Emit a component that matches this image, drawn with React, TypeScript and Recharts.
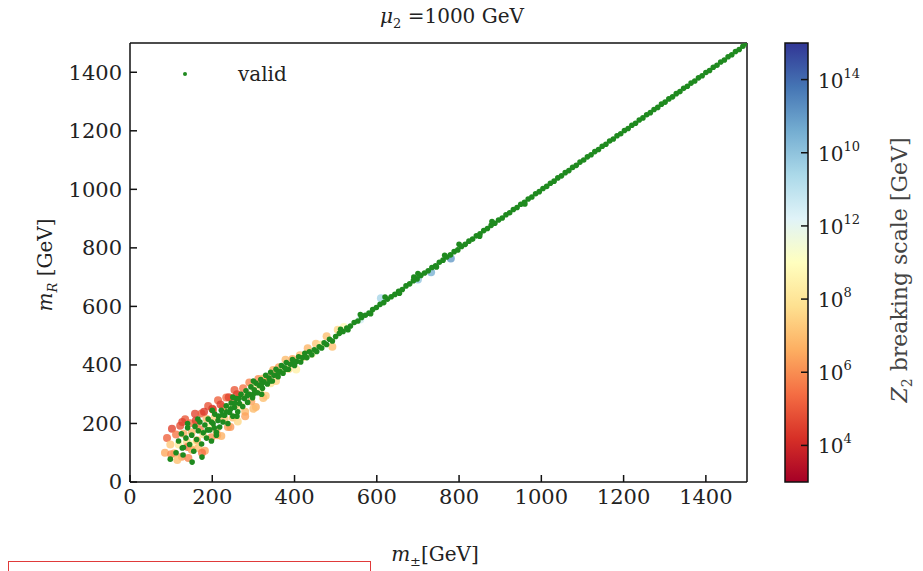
import {
  ScatterChart,
  Scatter,
  XAxis,
  YAxis,
  BarChart,
  Bar,
} from "recharts";

// valid points (m±, mR) in GeV
const validPoints: [number, number][] = [
  // low-mass cluster
  [98, 78], [151, 68], [175, 85], [127, 116], [129, 92],
  [112, 100], [118, 140], [125, 165], [130, 118], [136, 150], [140, 185], [145, 128], [150, 160],
  [155, 105], [158, 190], [162, 145], [166, 175], [170, 205], [174, 130], [178, 168], [182, 195],
  [186, 150], [190, 215], [194, 178], [198, 140], [202, 200], [206, 232], [210, 170], [214, 210],
  [218, 188], [222, 245], [226, 205], [230, 228], [234, 260], [238, 200], [242, 238], [246, 270],
  [250, 225], [254, 255], [258, 285], [262, 240], [266, 268], [270, 300], [274, 258], [278, 285],
  [282, 312], [286, 272], [290, 300], [294, 325], [298, 288], [302, 315], [306, 338], [310, 305],
  [314, 330], [318, 350], [322, 320], [326, 342], [330, 365], [334, 335], [338, 355], [342, 375],
  [346, 345], [350, 365], [355, 385], [360, 360], [364, 378], [368, 398], [372, 372], [376, 390],
  [380, 408], [385, 385], [390, 402], [395, 418], [400, 398], [405, 412], [410, 428], [415, 410],
  [420, 425], [425, 440], [430, 425], [436, 445], [442, 435], [448, 452], [454, 446], [460, 462],
  [466, 458], [472, 476], [478, 470], [485, 488], [492, 482],
  [205, 185], [215, 225], [235, 240], [255, 270], [245, 250], [265, 285], [285, 295], [300, 300],
  [320, 335], [340, 345], [360, 372], [380, 385], [400, 410], [198, 205], [188, 178], [225, 230],
  [140, 200], [165, 215], [200, 245], [250, 290], [300, 345], [210, 160], [260, 225], [320, 300],
  // upper line
  [500, 497], [509, 508], [518, 514], [527, 526], [536, 533], [545, 545], [554, 550], [563, 562],
  [572, 570], [581, 577], [590, 589], [599, 596], [608, 607], [617, 613], [626, 625], [635, 633],
  [644, 641], [653, 652], [662, 658], [671, 670], [680, 677], [689, 688], [698, 694], [707, 706],
  [716, 714], [725, 722], [734, 733], [743, 739], [752, 751], [761, 758], [770, 769], [779, 776],
  [788, 787], [797, 793], [806, 805], [815, 812], [824, 823], [833, 830], [842, 841], [851, 848],
  [860, 859], [869, 866], [878, 877], [887, 884], [896, 895], [905, 902], [914, 913], [923, 920],
  [932, 931], [941, 938], [950, 949], [959, 956], [968, 967], [977, 974], [986, 985], [995, 992],
  [1004, 1003], [1013, 1010], [1022, 1021], [1031, 1028], [1040, 1039], [1049, 1046], [1058, 1057],
  [1067, 1064], [1076, 1075], [1085, 1082], [1094, 1093], [1103, 1100], [1112, 1111], [1121, 1118],
  [1130, 1129], [1139, 1136], [1148, 1147], [1157, 1154], [1166, 1165], [1175, 1172], [1184, 1183],
  [1193, 1190], [1202, 1201], [1211, 1208], [1220, 1219], [1229, 1226], [1238, 1237], [1247, 1244],
  [1256, 1255], [1265, 1262], [1274, 1273], [1283, 1280], [1292, 1291], [1301, 1298], [1310, 1309],
  [1319, 1316], [1328, 1327], [1337, 1334], [1346, 1345], [1355, 1352], [1364, 1363], [1373, 1370],
  [1382, 1381], [1391, 1388], [1400, 1399], [1409, 1406], [1418, 1417], [1427, 1424], [1436, 1435],
  [1445, 1442], [1454, 1453], [1463, 1460], [1472, 1471], [1481, 1478], [1490, 1489], [1499, 1498],
  [512, 522], [530, 520], [560, 572], [585, 575], [620, 632], [655, 645], [690, 700], [700, 712],
  [745, 735], [765, 775], [800, 812], [850, 840], [880, 890], [960, 950],
];

// colored points (m±, mR, log10 of Z2 breaking scale)
const scalePoints: [number, number, number][] = [
  [85, 100, 6.5], [90, 150, 5.2], [98, 128, 7.2], [102, 182, 4.6], [108, 98, 6.8], [112, 162, 5.6],
  [118, 128, 8.2], [122, 192, 4.8], [126, 86, 6.2], [130, 165, 6.6], [134, 214, 5], [138, 138, 7.6],
  [142, 82, 5.8], [146, 201, 5.4], [150, 170, 6.8], [154, 129, 8.6], [158, 233, 4.7], [162, 202, 6.2],
  [166, 116, 7], [170, 180, 5.8], [174, 234, 5.1], [178, 163, 7.8], [182, 107, 6.4], [186, 216, 6.9],
  [190, 260, 4.9], [194, 189, 8.4], [198, 153, 6], [202, 247, 5.5], [206, 221, 7.4], [210, 175, 6.6],
  [214, 279, 5.2], [218, 218, 8], [222, 157, 6.7], [226, 256, 6.1], [230, 215, 7.2], [234, 289, 5.4],
  [238, 188, 6.3], [242, 257, 8.6], [246, 286, 5.8], [250, 220, 7], [254, 314, 5], [258, 263, 6.5],
  [262, 207, 7.6], [266, 296, 6.2], [270, 260, 8.2], [275, 320, 5.6], [280, 240, 6.8], [285, 300, 7.4],
  [290, 340, 5.8], [295, 275, 6.4], [300, 325, 7.8], [306, 256, 6.6], [312, 352, 6], [318, 318, 8.4],
  [324, 354, 6.8], [330, 295, 7.2], [336, 356, 6.2], [342, 337, 8], [348, 383, 6.6], [355, 345, 7.5],
  [362, 392, 6.4], [370, 380, 8.2], [378, 418, 6.9], [386, 386, 7.6], [395, 420, 6.5], [404, 384, 8.4],
  [413, 433, 7], [422, 427, 7.8], [432, 457, 6.8], [442, 437, 8.6], [452, 472, 7.2], [465, 470, 8],
  [478, 498, 7], [492, 462, 7], [505, 520, 7.6], [520, 530, 8.8],
  [100, 95, 6], [115, 75, 7], [140, 120, 5.5], [160, 210, 4.5], [180, 240, 4.4], [200, 250, 4.3],
  [220, 265, 4.5], [240, 290, 4.6], [260, 300, 4.5], [150, 110, 6.5], [175, 100, 5.5], [163, 143, 6.8],
  [212, 160, 6.5], [244, 188, 6.2], [324, 287, 7], [127, 205, 4.6], [280, 225, 6.4], [300, 250, 6.9],
  [560, 555, 10.5], [610, 628, 11.5], [700, 692, 12], [732, 717, 12.5], [780, 764, 13],
];

const xTicks = [0, 200, 400, 600, 800, 1000, 1200, 1400];
const yTicks = [0, 200, 400, 600, 800, 1000, 1200, 1400];

// colorbar: tick positions (log10) and the exponents printed next to them
const cbTicks = [4, 6, 8, 10, 12, 14];
const cbTickLabels = ["4", "6", "8", "12", "10", "14"];
const cbRange = [{ name: "cb", range: [3, 15] }];
const rdylbu = [
  "#a50026", "#d73027", "#f46d43", "#fdae61", "#fee090", "#ffffbf",
  "#e0f3f8", "#abd9e9", "#74add1", "#4575b4", "#313695",
];

const FONT = "'DejaVu Serif', serif";
const INK = "#222";
const GREEN = "#1f8a1f";

function hexToRgb(h: string) {
  return [1, 3, 5].map((i) => parseInt(h.slice(i, i + 2), 16));
}

function scaleColor(z: number) {
  const t = Math.max(0, Math.min(1, (z - 3) / 12)) * (rdylbu.length - 1);
  const i = Math.min(rdylbu.length - 2, Math.floor(t));
  const f = t - i;
  const a = hexToRgb(rdylbu[i]);
  const b = hexToRgb(rdylbu[i + 1]);
  const c = a.map((v, k) => Math.round(v + (b[k] - v) * f));
  return `rgb(${c[0]},${c[1]},${c[2]})`;
}

const validData = validPoints.map(([x, y]) => ({ x, y }));
const scaleData = scalePoints.map(([x, y, z]) => ({ x, y, z }));

const tickStyle = { fontFamily: FONT, fontSize: 21, fill: INK };

function CbTick(props: any) {
  const { x, y, index } = props;
  return (
    <text x={x} y={y} dy={8} fontFamily={FONT} fontSize={20} fill={INK}>
      10
      <tspan dy={-10} fontSize={13}>
        {cbTickLabels[index]}
      </tspan>
    </text>
  );
}

export default function App() {
  return (
    <div style={{ position: "absolute", left: 0, top: 0, width: 923, height: 571, background: "#fff" }}>
      <ScatterChart
        width={923}
        height={571}
        margin={{ top: 38, right: 166, bottom: 49, left: 50 }}
      >
        <XAxis
          xAxisId="b"
          type="number"
          dataKey="x"
          domain={[0, 1500]}
          ticks={xTicks}
          allowDataOverflow
          orientation="bottom"
          height={40}
          tickSize={-7}
          tickMargin={14}
          tick={tickStyle}
          axisLine={{ stroke: "#111", strokeWidth: 1.5 }}
          tickLine={{ stroke: "#111", strokeWidth: 1.5 }}
        />
        <XAxis
          xAxisId="t"
          type="number"
          dataKey="x"
          domain={[0, 1500]}
          ticks={xTicks}
          allowDataOverflow
          orientation="top"
          height={5}
          tickSize={-7}
          tick={false}
          axisLine={{ stroke: "#111", strokeWidth: 1.5 }}
          tickLine={{ stroke: "#111", strokeWidth: 1.5 }}
        />
        <YAxis
          yAxisId="l"
          type="number"
          dataKey="y"
          domain={[0, 1500]}
          ticks={yTicks}
          allowDataOverflow
          orientation="left"
          width={80}
          tickSize={-7}
          tickMargin={15}
          tick={tickStyle}
          axisLine={{ stroke: "#111", strokeWidth: 1.5 }}
          tickLine={{ stroke: "#111", strokeWidth: 1.5 }}
        />
        <YAxis
          yAxisId="r"
          type="number"
          dataKey="y"
          domain={[0, 1500]}
          ticks={yTicks}
          allowDataOverflow
          orientation="right"
          width={10}
          tickSize={-7}
          tick={false}
          axisLine={{ stroke: "#111", strokeWidth: 1.5 }}
          tickLine={{ stroke: "#111", strokeWidth: 1.5 }}
        />
        <Scatter
          data={scaleData}
          xAxisId="b"
          yAxisId="l"
          isAnimationActive={false}
          shape={(p: any) => (
            <circle cx={p.cx} cy={p.cy} r={4} fill={scaleColor(p.payload.z)} fillOpacity={0.8} />
          )}
        />
        <Scatter
          data={validData}
          xAxisId="t"
          yAxisId="r"
          isAnimationActive={false}
          shape={(p: any) => <circle cx={p.cx} cy={p.cy} r={2.8} fill={GREEN} />}
        />
      </ScatterChart>

      <div style={{ position: "absolute", left: 770, top: 0 }}>
        <BarChart
          width={153}
          height={571}
          data={cbRange}
          margin={{ top: 43, right: 0, bottom: 89, left: 15 }}
          barCategoryGap={0}
        >
          <defs>
            <linearGradient id="rdylbu" x1="0" y1="1" x2="0" y2="0">
              {rdylbu.map((c, i) => (
                <stop key={c} offset={i / (rdylbu.length - 1)} stopColor={c} />
              ))}
            </linearGradient>
          </defs>
          <XAxis dataKey="name" hide />
          <YAxis
            orientation="right"
            type="number"
            domain={[3, 15]}
            ticks={cbTicks}
            width={115}
            tickSize={-7}
            tickMargin={17}
            tick={<CbTick />}
            axisLine={false}
            tickLine={{ stroke: "#111", strokeWidth: 1.5 }}
          />
          <Bar
            dataKey="range"
            fill="url(#rdylbu)"
            stroke="#111"
            strokeWidth={1.5}
            isAnimationActive={false}
          />
        </BarChart>
      </div>

      <svg
        width={923}
        height={571}
        style={{ position: "absolute", left: 0, top: 0, pointerEvents: "none" }}
        fontFamily={FONT}
        fill={INK}
      >
        <text x={452} y={23} textAnchor="middle" fontSize={20}>
          <tspan fontStyle="italic">μ</tspan>
          <tspan fontSize={13} dy={5}>2</tspan>
          <tspan dy={-5}> =1000 GeV</tspan>
        </text>
        <circle cx={185} cy={74} r={2} fill={GREEN} />
        <text x={238} y={81} fontSize={20}>valid</text>
        <text transform="translate(52,265) rotate(-90)" textAnchor="middle" fontSize={20}>
          <tspan fontStyle="italic">m</tspan>
          <tspan fontSize={13} dy={5} fontStyle="italic">R</tspan>
          <tspan dy={-5}> [GeV]</tspan>
        </text>
        <text x={435} y={561} textAnchor="middle" fontSize={20}>
          <tspan fontStyle="italic">m</tspan>
          <tspan fontSize={13} dy={5}>±</tspan>
          <tspan dy={-5}>[GeV]</tspan>
        </text>
        <text transform="translate(907,270) rotate(-90)" textAnchor="middle" fontSize={22} fill="#444">
          <tspan fontStyle="italic">Z</tspan>
          <tspan fontSize={14} dy={5}>2</tspan>
          <tspan dy={-5}> breaking scale [GeV]</tspan>
        </text>
      </svg>

      <div
        style={{
          position: "absolute",
          left: 8,
          top: 561,
          width: 361,
          height: 10,
          borderTop: "1px solid #e03a3a",
          borderLeft: "1px solid #e03a3a",
          borderRight: "1px solid #e03a3a",
        }}
      />
    </div>
  );
}
